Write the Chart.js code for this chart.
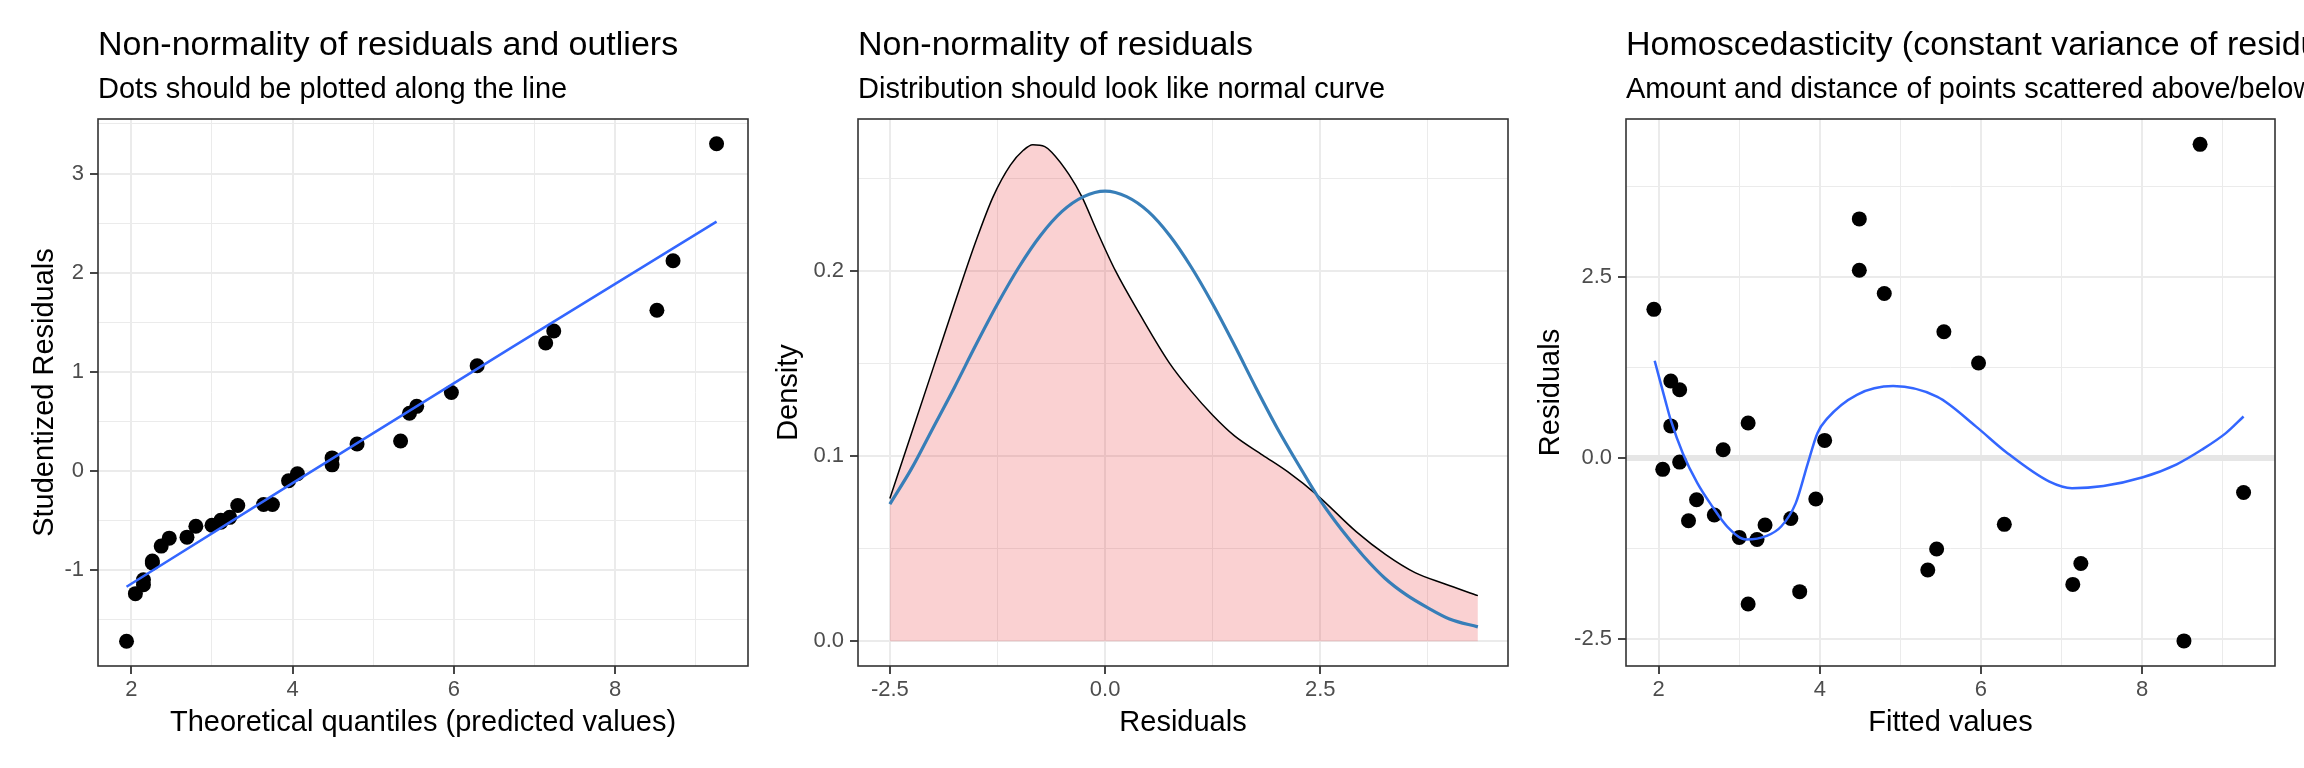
<!DOCTYPE html>
<html>
<head>
<meta charset="utf-8">
<script src="https://cdn.jsdelivr.net/npm/chart.js@4/dist/chart.umd.min.js"></script>
<style>
  body { margin: 0; background: #fff; }
  .row { display: flex; width: 2304px; height: 768px; overflow: hidden; }
  canvas { display: block; }
</style>
</head>
<body>
<div class="row">
  <canvas id="qq-chart" width="768" height="768"></canvas>
  <canvas id="density-chart" width="768" height="768"></canvas>
  <canvas id="resid-chart" width="768" height="768"></canvas>
</div>
<script>
// fitted values, shared by the Q-Q panel and the residuals panel
const fitted = [1.94, 2.05, 2.15, 2.15, 2.26, 2.26, 2.37, 2.47, 2.69, 2.80, 3.00, 3.11, 3.11, 3.22, 3.32, 3.64,
  3.75, 3.95, 4.06, 4.49, 4.49, 4.80, 5.34, 5.45, 5.54, 5.97, 6.29, 7.14, 7.24, 8.52, 8.72, 9.26];
const studResid = [-1.72, -1.24, -1.15, -1.10, -0.93, -0.91, -0.76, -0.68, -0.67, -0.56, -0.55, -0.52, -0.50, -0.47, -0.35, -0.34,
  -0.34, -0.10, -0.03, 0.06, 0.13, 0.27, 0.30, 0.58, 0.65, 0.79, 1.06, 1.29, 1.41, 1.62, 2.12, 3.30];
const residuals = [2.05, -0.16, 1.06, 0.44, 0.94, -0.06, -0.87, -0.58, -0.79, 0.11, -1.10, 0.48, -2.02, -1.13, -0.93, -0.84,
  -1.85, -0.57, 0.24, 3.30, 2.59, 2.27, -1.55, -1.26, 1.74, 1.31, -0.92, -1.75, -1.46, -2.53, 4.33, -0.48];

// smooth line on the Q-Q panel
const qqLineX = [1.94, 3.95, 6.73, 9.26];
const qqLineY = [-1.17, -0.15, 1.25, 2.515];

// loess line on the residuals panel
const loessX = [1.95, 2.08, 2.15, 2.30, 2.48, 2.67, 2.85, 3.09, 3.34, 3.52, 3.70, 3.85, 3.97, 4.09, 4.46, 4.91,
  5.46, 5.94, 6.31, 6.85, 7.13, 7.52, 8.01, 8.43, 8.74, 9.04, 9.26];
const loessY = [1.34, 0.80, 0.52, 0.06, -0.35, -0.68, -0.95, -1.13, -1.08, -0.95, -0.63, -0.08, 0.34, 0.54, 0.87, 0.99,
  0.84, 0.43, 0.08, -0.33, -0.42, -0.39, -0.27, -0.09, 0.11, 0.34, 0.57];

// density of residuals
const densX = [-2.5, -2.25, -2.0, -1.75, -1.5, -1.3, -1.1, -0.95, -0.84, -0.7, -0.62, -0.42, -0.27, -0.1,
  0.12, 0.41, 0.75, 1.0, 1.25, 1.5, 1.83, 2.12, 2.46, 2.92, 3.26, 3.6, 3.94, 4.33];
const densY = [0.077, 0.112, 0.147, 0.182, 0.216, 0.240, 0.257, 0.265, 0.268, 0.267, 0.264, 0.252, 0.240, 0.222,
  0.200, 0.176, 0.150, 0.135, 0.122, 0.111, 0.1005, 0.0915, 0.079, 0.059, 0.0467, 0.037, 0.031, 0.0246];

// normal curve
const normX = [-2.5, -2.25, -2, -1.75, -1.5, -1.25, -1, -0.75, -0.5, -0.25, 0, 0.25, 0.5, 0.75, 1, 1.25,
  1.5, 1.75, 2, 2.25, 2.5, 2.75, 3, 3.25, 3.5, 3.75, 4, 4.33];
const normY = [0.074, 0.093, 0.115, 0.137, 0.160, 0.182, 0.202, 0.219, 0.232, 0.240, 0.243, 0.240, 0.232, 0.219, 0.202, 0.182,
  0.160, 0.137, 0.115, 0.095, 0.076, 0.060, 0.046, 0.034, 0.025, 0.018, 0.012, 0.0077];

// ticks
const qqXTicks = [2, 4, 6, 8];
const qqXLabels = ['2', '4', '6', '8'];
const qqXMinor = [3, 5, 7, 9];
const qqYTicks = [-1, 0, 1, 2, 3];
const qqYLabels = ['-1', '0', '1', '2', '3'];
const qqYMinor = [-1.5, -0.5, 0.5, 1.5, 2.5, 3.5];
const densXTicks = [-2.5, 0, 2.5];
const densXLabels = ['-2.5', '0.0', '2.5'];
const densXMinor = [-1.25, 1.25, 3.75];
const densYTicks = [0, 0.1, 0.2];
const densYLabels = ['0.0', '0.1', '0.2'];
const densYMinor = [0.05, 0.15, 0.25];
const fitXTicks = [2, 4, 6, 8];
const fitXLabels = ['2', '4', '6', '8'];
const fitXMinor = [3, 5, 7, 9];
const fitYTicks = [-2.5, 0, 2.5];
const fitYLabels = ['-2.5', '0.0', '2.5'];
const fitYMinor = [-1.25, 1.25, 3.75];

const FONT = '"Liberation Sans", Arial, sans-serif';

const toXY = (xs, ys) => xs.map((x, i) => ({ x: x, y: ys[i] }));

// ggplot-like axis: major + minor grid, labels only on majors
function makeAxis(pos, min, max, major, labels, minor, title, size, titlePad, zeroLine) {
  const horiz = pos === 'bottom';
  return {
    type: 'linear',
    position: pos,
    min: min,
    max: max,
    afterBuildTicks: s => {
      const t = major.map((v, i) => ({ value: v, txt: labels[i] }))
        .concat(minor.map(v => ({ value: v, minor: true, txt: '' })));
      s.ticks = t.filter(k => k.value >= min && k.value <= max).sort((a, b) => a.value - b.value);
    },
    afterFit: s => {
      if (horiz) s.height = size; else s.width = size;
    },
    ticks: {
      autoSkip: false,
      maxRotation: 0,
      padding: horiz ? 3 : 6,
      color: '#4D4D4D',
      font: { family: FONT, size: 22 },
      callback: (v, i, ticks) => ticks[i].txt
    },
    grid: {
      color: c => (zeroLine && c.tick && c.tick.value === 0) ? '#E6E6E6' : '#EBEBEB',
      lineWidth: c => {
        if (!c.tick) return 2;
        if (c.tick.minor) return 1;
        return (zeroLine && c.tick.value === 0) ? 6 : 2;
      },
      tickLength: 8,
      tickWidth: 1.8,
      tickColor: c => (c.tick && c.tick.minor) ? 'rgba(0,0,0,0)' : '#333333'
    },
    border: { display: false },
    title: {
      display: true,
      text: title,
      color: '#000',
      font: { family: FONT, size: 29, lineHeight: 1 },
      padding: horiz ? { top: 0, bottom: 31 } : { top: titlePad, bottom: 0 }
    }
  };
}

// panel border and the title / subtitle above the panel
const panelFrame = {
  id: 'panelFrame',
  afterDraw(chart, args, opts) {
    const ctx = chart.ctx;
    const a = chart.chartArea;
    ctx.save();
    ctx.strokeStyle = '#333333';
    ctx.lineWidth = 1.6;
    ctx.strokeRect(a.left, a.top, a.right - a.left, a.bottom - a.top);
    ctx.fillStyle = '#000';
    ctx.textAlign = 'left';
    ctx.textBaseline = 'alphabetic';
    ctx.font = '34px ' + FONT;
    ctx.fillText(opts.title, a.left, 55);
    ctx.font = '29px ' + FONT;
    ctx.fillText(opts.subtitle, a.left, 98);
    ctx.restore();
  }
};

const basePlugins = { legend: { display: false }, tooltip: { enabled: false } };

new Chart(document.getElementById('qq-chart'), {
  type: 'scatter',
  data: {
    datasets: [{
      type: 'line',
      data: toXY(qqLineX, qqLineY),
      borderColor: '#3366FF',
      borderWidth: 2.5,
      pointRadius: 0,
      tension: 0,
      fill: false
    }, {
      data: toXY(fitted, studResid),
      backgroundColor: '#000000',
      borderWidth: 0,
      pointRadius: 7.5
    }]
  },
  options: {
    responsive: false,
    animation: false,
    layout: { padding: { top: 119, right: 20, left: 0, bottom: 0 } },
    scales: {
      x: makeAxis('bottom', 1.586, 9.65, qqXTicks, qqXLabels, qqXMinor, 'Theoretical quantiles (predicted values)', 102),
      y: makeAxis('left', -1.97, 3.55, qqYTicks, qqYLabels, qqYMinor, 'Studentized Residuals', 98, 30)
    },
    plugins: Object.assign({}, basePlugins, {
      panelFrame: { title: 'Non-normality of residuals and outliers', subtitle: 'Dots should be plotted along the line' }
    })
  },
  plugins: [panelFrame]
});

new Chart(document.getElementById('density-chart'), {
  type: 'scatter',
  data: {
    datasets: [{
      type: 'line',
      data: toXY(normX, normY),
      borderColor: '#377EB8',
      borderWidth: 3.2,
      pointRadius: 0,
      cubicInterpolationMode: 'monotone',
      fill: false
    }, {
      type: 'line',
      data: toXY(densX, densY),
      borderColor: '#000000',
      borderWidth: 1.5,
      backgroundColor: 'rgba(228, 26, 28, 0.2)',
      pointRadius: 0,
      cubicInterpolationMode: 'monotone',
      fill: 'origin'
    }]
  },
  options: {
    responsive: false,
    animation: false,
    layout: { padding: { top: 119, right: 28, left: 0, bottom: 0 } },
    scales: {
      x: makeAxis('bottom', -2.87, 4.68, densXTicks, densXLabels, densXMinor, 'Residuals', 102),
      y: makeAxis('left', -0.0134, 0.2819, densYTicks, densYLabels, densYMinor, 'Density', 90, 6)
    },
    plugins: Object.assign({}, basePlugins, {
      panelFrame: { title: 'Non-normality of residuals', subtitle: 'Distribution should look like normal curve' }
    })
  },
  plugins: [panelFrame]
});

new Chart(document.getElementById('resid-chart'), {
  type: 'scatter',
  data: {
    datasets: [{
      type: 'line',
      data: toXY(loessX, loessY),
      borderColor: '#3366FF',
      borderWidth: 2.5,
      pointRadius: 0,
      cubicInterpolationMode: 'monotone',
      fill: false
    }, {
      data: toXY(fitted, residuals),
      backgroundColor: '#000000',
      borderWidth: 0,
      pointRadius: 7.5
    }]
  },
  options: {
    responsive: false,
    animation: false,
    layout: { padding: { top: 119, right: 29, left: 0, bottom: 0 } },
    scales: {
      x: makeAxis('bottom', 1.594, 9.65, fitXTicks, fitXLabels, fitXMinor, 'Fitted values', 102),
      y: makeAxis('left', -2.877, 4.68, fitYTicks, fitYLabels, fitYMinor, 'Residuals', 90, 0, true)
    },
    plugins: Object.assign({}, basePlugins, {
      panelFrame: {
        title: 'Homoscedasticity (constant variance of residuals)',
        subtitle: 'Amount and distance of points scattered above/below line is equal or randomly spread'
      }
    })
  },
  plugins: [panelFrame]
});
</script>
</body>
</html>
